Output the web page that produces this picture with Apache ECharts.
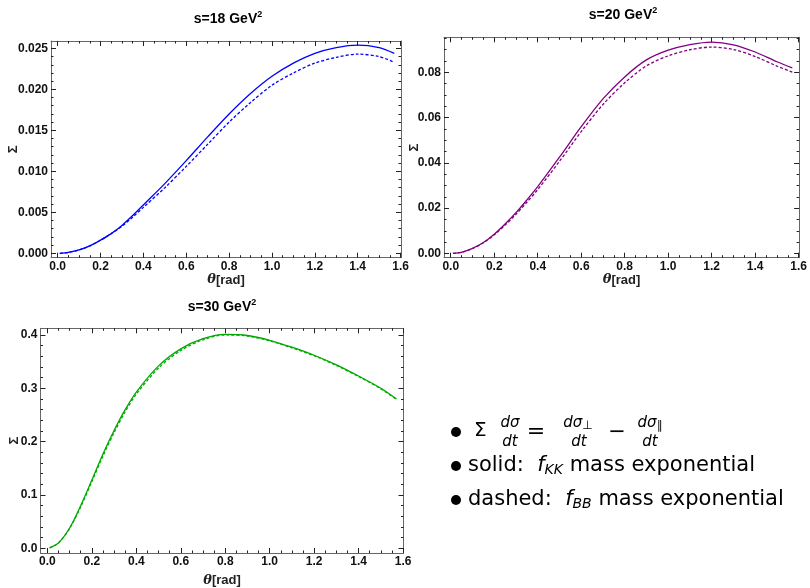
<!DOCTYPE html>
<html>
<head>
<meta charset="utf-8">
<script src="https://cdn.jsdelivr.net/npm/echarts@6/dist/echarts.min.js"></script>
<style>
  html, body { margin: 0; padding: 0; background: #fff; }
  #main { width: 810px; height: 588px; }
</style>
</head>
<body>
<div id="main"></div>
<script>
// theta values (rad) shared by all curves
var theta = [0.01, 0.05, 0.1, 0.15, 0.2, 0.25, 0.3, 0.35, 0.4, 0.5, 0.6, 0.7, 0.8, 0.9, 1.0, 1.1, 1.2, 1.3, 1.4, 1.5, 1.5708];

// s = 18 GeV^2
var s18Solid  = [0, 0.0001, 0.0004, 0.0009, 0.0016, 0.0024, 0.0034, 0.0046, 0.0059, 0.0085, 0.0113, 0.0142, 0.0170, 0.0195, 0.0216, 0.0232, 0.0244, 0.0251, 0.0254, 0.0251, 0.0244];
var s18Dashed = [0, 0.0001, 0.0004, 0.0009, 0.0016, 0.0024, 0.0033, 0.0044, 0.0056, 0.0080, 0.0106, 0.0133, 0.0160, 0.0184, 0.0205, 0.0220, 0.0232, 0.0239, 0.0243, 0.0240, 0.0233];
// s = 20 GeV^2
var s20Solid  = [0, 0.0005, 0.0022, 0.0048, 0.0085, 0.0130, 0.0180, 0.0236, 0.0295, 0.0425, 0.0560, 0.0683, 0.0780, 0.0855, 0.0898, 0.0923, 0.0934, 0.0922, 0.0890, 0.0847, 0.0820];
var s20Dashed = [0, 0.0005, 0.0021, 0.0047, 0.0082, 0.0125, 0.0173, 0.0226, 0.0282, 0.0407, 0.0538, 0.0658, 0.0754, 0.0829, 0.0873, 0.0900, 0.0912, 0.0901, 0.0870, 0.0828, 0.0801];
// s = 30 GeV^2
var s30Solid  = [0.001, 0.010, 0.038, 0.080, 0.128, 0.177, 0.221, 0.260, 0.293, 0.342, 0.374, 0.393, 0.401, 0.399, 0.390, 0.377, 0.362, 0.344, 0.323, 0.300, 0.280];
var s30Dashed = [0.001, 0.010, 0.037, 0.078, 0.125, 0.173, 0.217, 0.256, 0.289, 0.338, 0.371, 0.391, 0.400, 0.398, 0.389, 0.376, 0.361, 0.343, 0.322, 0.299, 0.279];

// tick labels
var xTicks  = [0, 0.2, 0.4, 0.6, 0.8, 1.0, 1.2, 1.4, 1.6];
var yTicks1 = [0, 0.005, 0.010, 0.015, 0.020, 0.025];
var yTicks2 = [0, 0.02, 0.04, 0.06, 0.08];
var yTicks3 = [0, 0.1, 0.2, 0.3, 0.4];

var titles = ['s=18 GeV', 's=20 GeV', 's=30 GeV'];

var frameColor = '#666';
var tickColor = '#222';
var labelFont = 'Liberation Sans';

function pairs(xs, ys) {
  return xs.map(function (x, i) { return [x, ys[i]]; });
}

// minor ticks between majors
function minors(min, max, step, every) {
  var out = [];
  for (var k = Math.ceil(min / step); k * step <= max + 1e-9; k++) {
    if (k % every !== 0) out.push(+(k * step).toFixed(6));
  }
  return out;
}

// four axes per side pair: main (labels+frame), minor, mirror main, mirror minor
function makeAxes(kind, g, min, max, major, minorStep, every, digits, name, nameGap) {
  var pos = kind === 'x' ? ['bottom', 'top'] : ['left', 'right'];
  var minor = minors(min, max, minorStep, every);
  function base(p) {
    return {
      type: 'value', gridIndex: g, min: min, max: max, position: p,
      splitLine: { show: false },
      axisLine: { show: false, onZero: false },
      axisLabel: { show: false },
      axisTick: { show: false }
    };
  }
  var main = base(pos[0]);
  main.axisLine = { show: true, onZero: false, lineStyle: { color: frameColor, width: 1 } };
  main.axisTick = { show: true, inside: true, length: 5, customValues: major, lineStyle: { color: tickColor } };
  main.axisLabel = {
    show: true, customValues: major, margin: 3,
    fontFamily: labelFont, fontWeight: 'bold', fontSize: 12, color: '#111',
    formatter: function (v) { return v.toFixed(digits); }
  };
  main.name = name;
  main.nameLocation = 'middle';
  main.nameGap = nameGap;
  if (kind === 'y') main.nameMoveOverlap = false;
  main.nameTextStyle = {
    fontFamily: labelFont, fontWeight: 'bold', fontSize: 13, color: '#222',
    rich: { i: { fontFamily: 'DejaVu Serif', fontStyle: 'italic', fontWeight: 'bold', fontSize: 13, color: '#222' } }
  };
  var mn = base(pos[0]);
  mn.axisTick = { show: true, inside: true, length: 2.5, customValues: minor, lineStyle: { color: tickColor } };
  var mirror = base(pos[1]);
  mirror.axisLine = { show: true, onZero: false, lineStyle: { color: frameColor, width: 1 } };
  mirror.axisTick = { show: true, inside: true, length: 5, customValues: major, lineStyle: { color: tickColor } };
  var mirrorMn = base(pos[1]);
  mirrorMn.axisTick = { show: true, inside: true, length: 2.5, customValues: minor, lineStyle: { color: tickColor } };
  return [main, mn, mirror, mirrorMn];
}

var xMin = -0.031, xMax = 1.602;

var grids = [
  { left: 51, top: 41, width: 350, height: 216.7 },
  { left: 444, top: 37.3, width: 357, height: 220.4 },
  { left: 40.5, top: 328.3, width: 363, height: 225.7 }
];

var xAxes = []
  .concat(makeAxes('x', 0, xMin, xMax, xTicks, 0.05, 4, 1, '{i|θ}[rad]', 14))
  .concat(makeAxes('x', 1, xMin, xMax, xTicks, 0.05, 4, 1, '{i|θ}[rad]', 15))
  .concat(makeAxes('x', 2, xMin, xMax, xTicks, 0.05, 4, 1, '{i|θ}[rad]', 21));
var yAxes = []
  .concat(makeAxes('y', 0, -0.00054, 0.0259, yTicks1, 0.001, 5, 3, 'Σ', 31))
  .concat(makeAxes('y', 1, -0.0019, 0.0955, yTicks2, 0.005, 4, 2, 'Σ', 23))
  .concat(makeAxes('y', 2, -0.0088, 0.4125, yTicks3, 0.02, 5, 1, 'Σ', 20));

function line(g, ys, color, dashed) {
  return {
    type: 'line', xAxisIndex: g * 4, yAxisIndex: g * 4,
    data: pairs(theta, ys), showSymbol: false, symbol: 'none',
    smooth: 0.3, animation: false,
    lineStyle: { color: color, width: 1.3, type: dashed ? [3, 2] : 'solid' }
  };
}

var titleRich = {
  b: { fontFamily: labelFont, fontWeight: 'bold', fontSize: 14, color: '#111', lineHeight: 18 },
  sup: { fontFamily: labelFont, fontWeight: 'bold', fontSize: 9, color: '#111', padding: [0, 0, 8, 0] }
};
function titleText(t, x, y) {
  return { type: 'text', x: x, y: y, style: { text: '{b|' + t + '}{sup|2}', rich: titleRich, align: 'center', verticalAlign: 'middle' } };
}

var mathFont = 'DejaVu Sans';
function txt(s, x, y, size, italic, align) {
  return { type: 'text', x: x, y: y, style: { text: s, fontFamily: mathFont, fontSize: size, fontStyle: italic ? 'italic' : 'normal', fill: '#000', align: align || 'center', verticalAlign: 'middle' } };
}
var fracRich = {
  n: { fontFamily: mathFont, fontSize: 15, fontStyle: 'italic', color: '#000' },
  s: { fontFamily: mathFont, fontSize: 12, color: '#000', padding: [6, 0, 0, 0] }
};
function numer(s, x, y) {
  return { type: 'text', x: x, y: y, style: { text: s, rich: fracRich, align: 'center', verticalAlign: 'middle' } };
}
var legRich = {
  i: { fontFamily: mathFont, fontSize: 21, fontStyle: 'italic', color: '#000' },
  sub: { fontFamily: mathFont, fontSize: 14, fontStyle: 'italic', color: '#000', padding: [9, 0, 0, 0] }
};
function legLine(s, y) {
  return { type: 'text', x: 468, y: y, style: { text: s, rich: legRich, fontFamily: mathFont, fontSize: 21, fill: '#000', align: 'left', verticalAlign: 'middle' } };
}

var graphics = [
  titleText(titles[0], 228, 19),
  titleText(titles[1], 623, 15),
  titleText(titles[2], 222, 307),
  { type: 'circle', shape: { cx: 456, cy: 432, r: 5 }, style: { fill: '#000' } },
  { type: 'circle', shape: { cx: 456, cy: 466, r: 5 }, style: { fill: '#000' } },
  { type: 'circle', shape: { cx: 456, cy: 500, r: 5 }, style: { fill: '#000' } },
  txt('Σ', 474, 431, 20, false, 'left'),
  numer('{n|dσ}', 510, 423),
  txt('dt', 510, 442, 15, true),
  txt('=', 536, 432, 22, false),
  numer('{n|dσ}{s|⊥}', 578, 423),
  txt('dt', 579, 442, 15, true),
  txt('−', 617, 433, 21, false),
  numer('{n|dσ}{s|∥}', 650, 423),
  txt('dt', 650, 442, 15, true),
  legLine('solid:  {i|f}{sub|KK} mass exponential', 466),
  legLine('dashed:  {i|f}{sub|BB} mass exponential', 500)
];

var myChart = echarts.init(document.getElementById('main'));
var option = {
  animation: false,
  backgroundColor: '#fff',
  grid: grids,
  xAxis: xAxes,
  yAxis: yAxes,
  series: [
    line(0, s18Solid, '#0000ff', false),
    line(0, s18Dashed, '#0000ff', true),
    line(1, s20Solid, '#800080', false),
    line(1, s20Dashed, '#800080', true),
    line(2, s30Solid, '#00aa00', false),
    line(2, s30Dashed, '#00aa00', true)
  ],
  graphic: graphics
};
myChart.setOption(option);
</script>
</body>
</html>
